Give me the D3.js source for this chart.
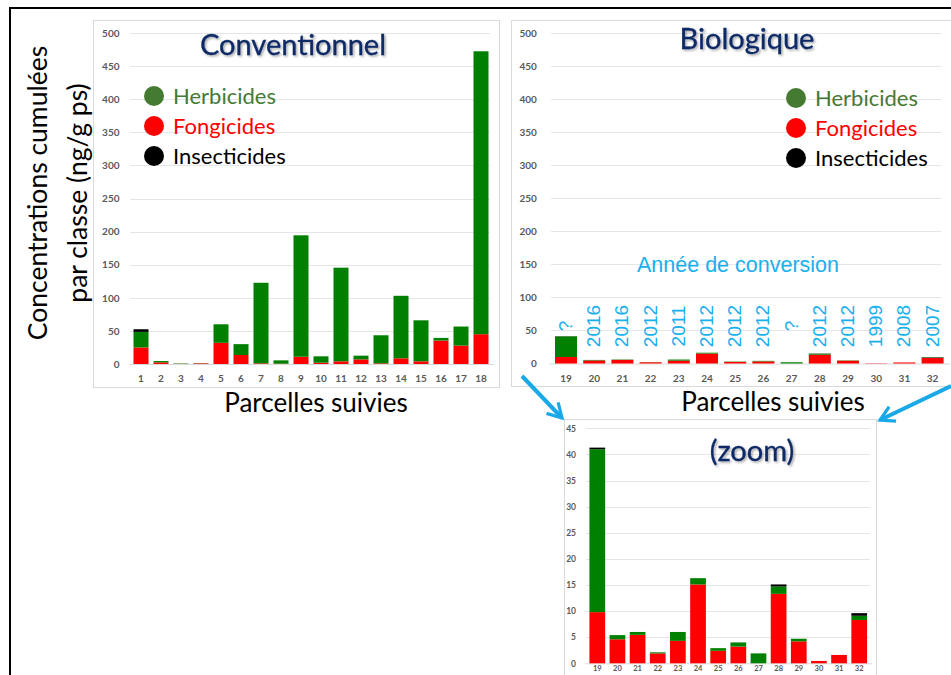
<!DOCTYPE html>
<html>
<meta charset="utf-8">
<head>
<style>
body { margin: 0; background: #fff; overflow: hidden; }
svg text { font-family: Lato, "Open Sans", sans-serif; }
.tick text { fill: #595959; font-weight: bold; }
.grid line { stroke: #e6e6e6; stroke-width: 1; shape-rendering: crispEdges; }
</style>
<script src="https://d3js.org/d3.v7.min.js"></script>
</head>
<body>
<script>
// ---- data ----
var convParcels = ["1","2","3","4","5","6","7","8","9","10","11","12","13","14","15","16","17","18"];
var convFong    = [25, 2.5, 0.2, 1, 32, 13.6, 1, 0.5, 11, 2, 4, 7, 1, 8.6, 4, 35.4, 27.8, 45];
var convHerb    = [23.5, 2, 0.6, 0.3, 28, 16.4, 121.7, 5, 183.4, 9.6, 141.5, 5.6, 42.4, 94.4, 62, 4, 28.8, 427.4];
var convInsect  = [4, 0, 0, 0, 0, 0, 0, 0, 0, 0, 0, 0, 0, 0, 0, 0, 0, 0];

var bioParcels = ["19","20","21","22","23","24","25","26","27","28","29","30","31","32"];
var bioFong    = [9.8, 4.6, 5.45, 1.9, 4.3, 15.1, 2.4, 3.2, 0, 13.3, 4.2, 0.45, 1.6, 8.3];
var bioHerb    = [31.2, 0.8, 0.55, 0.2, 1.7, 1.2, 0.5, 0.8, 1.9, 1.4, 0.5, 0, 0, 0.8];
var bioInsect  = [0.3, 0, 0, 0, 0, 0, 0, 0, 0, 0.4, 0, 0, 0, 0.5];
var bioYears   = ["?","2016","2016","2012","2011","2012","2012","2012","?","2012","2012","1999","2008","2007"];

var bigTicks  = [0, 50, 100, 150, 200, 250, 300, 350, 400, 450, 500];
var zoomTicks = [0, 5, 10, 15, 20, 25, 30, 35, 40, 45];

var classes = ["Herbicides", "Fongicides", "Insecticides"];
var classColors = { Fong: "#ff0000", Herb: "#008000", Insect: "#000000" };
var legendDot = ["#457a33", "#ff0000", "#000000"];
var legendText = ["#457a33", "#ff0000", "#000000"];

var svg = d3.select("body").append("svg")
    .attr("width", 951)
    .attr("height", 675);

// shadow for titles
var defs = svg.append("defs");
defs.append("filter").attr("id", "shadow")
    .attr("x", "-10%").attr("y", "-20%").attr("width", "130%").attr("height", "150%")
  .append("feDropShadow")
    .attr("dx", 1.5).attr("dy", 1.5).attr("stdDeviation", 1)
    .attr("flood-color", "#000").attr("flood-opacity", 0.35);

defs.append("marker").attr("id", "chev")
    .attr("viewBox", "0 0 10 10").attr("refX", 8).attr("refY", 5)
    .attr("markerWidth", 5).attr("markerHeight", 5)
    .attr("orient", "auto").attr("markerUnits", "strokeWidth")
  .append("path")
    .attr("d", "M1,1 L8,5 L1,9")
    .attr("fill", "none").attr("stroke", "#1aa9e8").attr("stroke-width", 1.6);

// outer frame
svg.append("rect")
    .attr("x", 10).attr("y", 8).attr("width", 960).attr("height", 700)
    .attr("fill", "none").attr("stroke", "#000").attr("stroke-width", 2);

function makeRows(parcels, fong, herb, insect) {
    return parcels.map(function(p, i) {
        return { parcel: p, Fong: fong[i], Herb: herb[i], Insect: insect[i] };
    });
}

function drawChart(opt) {
    var g = svg.append("g");

    g.append("rect")
        .attr("x", opt.box[0]).attr("y", opt.box[1])
        .attr("width", opt.box[2]).attr("height", opt.box[3])
        .attr("fill", "#fff").attr("stroke", "#d9d9d9");

    var x = d3.scaleBand().domain(opt.parcels).range(opt.xr).padding(opt.pad);
    var y = d3.scaleLinear().domain([0, opt.ymax]).range(opt.yr);

    // gridlines
    g.append("g").attr("class", "grid")
        .selectAll("line").data(opt.ticks.slice(1)).enter().append("line")
        .attr("x1", opt.gx[0]).attr("x2", opt.gx[1])
        .attr("y1", function(d) { return Math.round(y(d)) + 0.5; })
        .attr("y2", function(d) { return Math.round(y(d)) + 0.5; });

    var yAxis = d3.axisLeft(y).tickValues(opt.ticks).tickSize(0).tickPadding(opt.ytp);
    g.append("g").attr("transform", "translate(" + opt.xr[0] + ",0)")
        .call(yAxis)
        .call(function(s) { s.select(".domain").remove(); })
        .selectAll("text").style("font-size", opt.tickFs + "px");

    var xAxis = d3.axisBottom(x).tickSize(0).tickPadding(opt.xtp);
    g.append("g").attr("transform", "translate(0," + opt.yr[0] + ")")
        .call(xAxis)
        .call(function(s) { s.select(".domain").attr("stroke", "#d9d9d9"); })
        .selectAll("text").style("font-size", (opt.xFs || opt.tickFs) + "px");

    var rows = makeRows(opt.parcels, opt.fong, opt.herb, opt.insect);
    var series = d3.stack().keys(["Fong", "Herb", "Insect"])(rows);

    g.selectAll(".layer").data(series).enter().append("g")
        .attr("fill", function(d) { return classColors[d.key]; })
      .selectAll("rect").data(function(d) { return d; }).enter().append("rect")
        .attr("x", function(d) { return x(d.data.parcel); })
        .attr("width", x.bandwidth())
        .attr("y", function(d) { return y(d[1]); })
        .attr("height", function(d) { return Math.max(0, y(d[0]) - y(d[1])); });

    return { g: g, x: x, y: y };
}

function drawLegend(cx, y0, tx) {
    var lg = svg.append("g");
    classes.forEach(function(c, i) {
        lg.append("circle").attr("cx", cx).attr("cy", y0 + i * 30).attr("r", 10)
            .attr("fill", legendDot[i]);
        lg.append("text").attr("x", tx).attr("y", y0 + i * 30 + 8)
            .attr("fill", legendText[i])
            .style("font-size", "22px")
            .text(c);
    });
}

function title(txt, x, y) {
    svg.append("text").attr("x", x).attr("y", y)
        .attr("text-anchor", "middle")
        .attr("fill", "#0d2a66")
        .attr("stroke", "#0d2a66").attr("stroke-width", 0.3)
        .attr("filter", "url(#shadow)")
        .style("font-size", "29px")
        .text(txt);
}

// --- Conventionnel ---
drawChart({
    box: [93.5, 20.5, 406, 367],
    parcels: convParcels, fong: convFong, herb: convHerb, insect: convInsect,
    xr: [128.5, 493.5], pad: 0.25, yr: [364, 33], ymax: 500, ticks: bigTicks,
    gx: [130, 490], ytp: 9, xtp: 11, tickFs: 10
});
title("Conventionnel", 293, 55);
drawLegend(154, 96, 173);

// --- Biologique ---
var bio = drawChart({
    box: [511.5, 20.5, 450, 366],
    parcels: bioParcels, fong: bioFong, herb: bioHerb, insect: bioInsect,
    xr: [548.8, 949.8], pad: 0.22, yr: [363.5, 33], ymax: 500, ticks: bigTicks,
    gx: [551, 941], ytp: 12, xtp: 11, tickFs: 10
});
title("Biologique", 747, 49);
drawLegend(796, 98, 815);

bio.g.append("text")
    .attr("x", 738).attr("y", 272)
    .attr("text-anchor", "middle")
    .attr("fill", "#19b0ec")
    .style("font-family", "'Liberation Sans', Arial, sans-serif")
    .style("font-size", "21.5px")
    .text("Année de conversion");

bio.g.selectAll(".year").data(bioYears).enter().append("text")
    .attr("class", "year")
    .attr("transform", function(d, i) {
        var cx = bio.x(bioParcels[i]) + bio.x.bandwidth() / 2 + 6;
        return "translate(" + cx + ",326) rotate(-90)";
    })
    .attr("text-anchor", "middle")
    .attr("fill", "#19b0ec")
    .style("font-family", "'Liberation Sans', Arial, sans-serif")
    .style("font-size", "19px")
    .text(function(d) { return d; });

// --- zoom ---
drawChart({
    box: [564.5, 419.5, 312, 270],
    parcels: bioParcels, fong: bioFong, herb: bioHerb, insect: bioInsect,
    xr: [585, 871.5], pad: 0.22, yr: [663.3, 428.3], ymax: 45, ticks: zoomTicks,
    gx: [586, 870], ytp: 9, xtp: 2.5, tickFs: 8.5, xFs: 7.5
});
title("(zoom)", 752, 461);

// axis titles
svg.append("text").attr("x", 316).attr("y", 412).attr("text-anchor", "middle")
    .style("font-size", "26px").text("Parcelles suivies");
svg.append("text").attr("x", 773).attr("y", 411).attr("text-anchor", "middle")
    .style("font-size", "26px").text("Parcelles suivies");

var yl = svg.append("text")
    .attr("transform", "translate(0,193) rotate(-90)")
    .attr("text-anchor", "middle")
    .style("font-size", "26.5px");
yl.append("tspan").attr("x", 0).attr("y", 47).text("Concentrations cumulées");
yl.append("tspan").attr("x", 0).attr("y", 87).text("par classe (ng/g ps)");

// arrows to the zoom
svg.append("line").attr("x1", 522).attr("y1", 376).attr("x2", 562).attr("y2", 418)
    .attr("stroke", "#1aa9e8").attr("stroke-width", 4).attr("marker-end", "url(#chev)");
svg.append("line").attr("x1", 951).attr("y1", 386).attr("x2", 880).attr("y2", 420)
    .attr("stroke", "#1aa9e8").attr("stroke-width", 4).attr("marker-end", "url(#chev)");
</script>
</body>
</html>
